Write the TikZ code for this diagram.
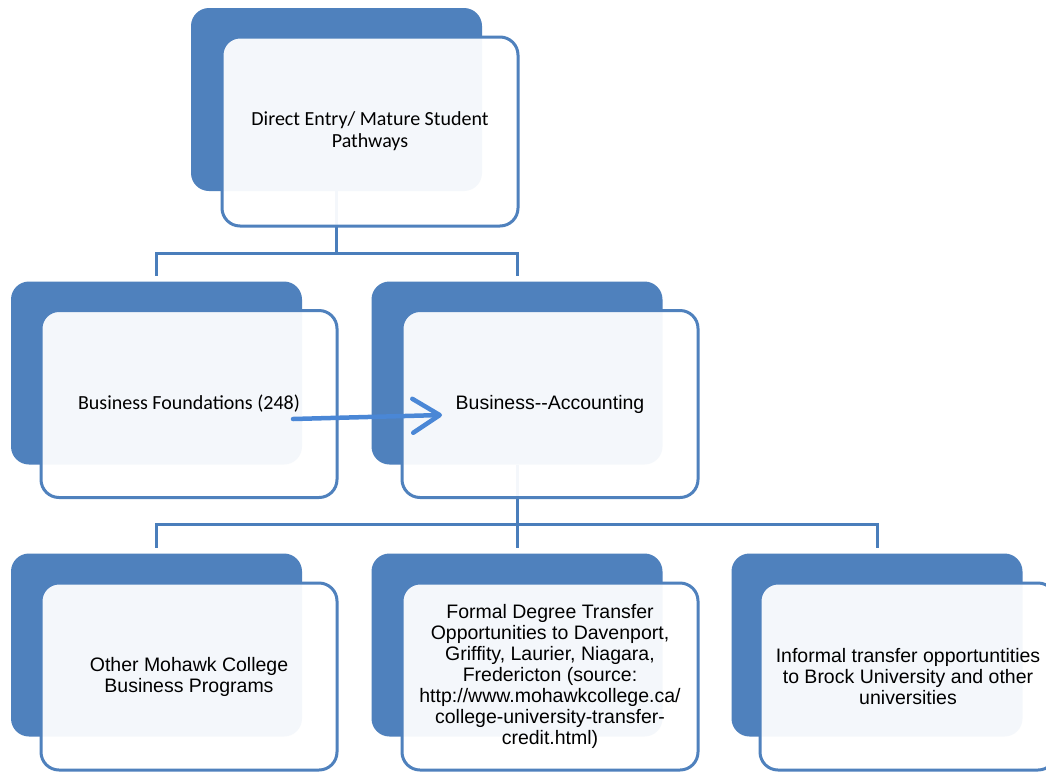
\documentclass[tikz,border=0pt]{standalone}
\usepackage{fontspec}
\setmainfont{Liberation Sans}
\newfontfamily\calfont{Carlito}
\usetikzlibrary{arrows.meta}
\definecolor{backblue}{HTML}{4F81BD}
\definecolor{linkblue}{HTML}{4A7EBB}
\definecolor{arrowblue}{HTML}{4A87D6}
\tikzset{
  backbox/.style={rectangle, rounded corners=18pt, fill=backblue, draw=none,
    minimum width=291pt, minimum height=183pt, inner sep=0pt},
  frontbox/.style={rectangle, rounded corners=18pt, draw=backblue, line width=3pt,
    fill=white, fill opacity=0.94, text opacity=1,
    minimum width=296pt, minimum height=187pt, inner sep=0pt, align=center},
  arialtxt/.style={font=\fontsize{19.5pt}{21pt}\selectfont},
  calitxt/.style={font=\calfont\fontsize{20pt}{22pt}\selectfont},
  conn/.style={draw=linkblue, line width=3pt},
  flowarrow/.style={draw=arrowblue, line width=4.5pt, line cap=round,
    -{Straight Barb[length=27pt, width=34pt, line width=4.5pt, round]}},
}
\begin{document}
\begin{tikzpicture}[x=1pt, y=-1pt]
\useasboundingbox (0,0) rectangle (1046,774);
\clip (0,0) rectangle (1046,774);
\fill[white] (0,0) rectangle (1046,774);
% back rectangles
\node[backbox] (tb) at (336.5,99.5) {};
\node[backbox] (lb) at (156.5,373) {};
\node[backbox] (rb) at (517,373) {};
\node[backbox] (b1b) at (156.5,645) {};
\node[backbox] (b2b) at (517,645) {};
\node[backbox] (b3b) at (877,645) {};
% connectors
\coordinate (j1) at (336.5,253);
\coordinate (j2) at (517,524);
\draw[conn] (tb.south) -- (j1);
\draw[conn, shorten >=5pt] (j1) -| (lb.north);
\draw[conn, shorten >=5pt] (j1) -| (rb.north);
\draw[conn] (rb.south) -- (j2);
\draw[conn, shorten >=5pt] (j2) -| (b1b.north);
\draw[conn, shorten >=5pt] (j2) -| (b2b.north);
\draw[conn, shorten >=5pt] (j2) -| (b3b.north);
% front boxes
\node[frontbox, calitxt, minimum height=189pt] (tf) at (370,131.5) {Direct Entry/ Mature Student\\Pathways};
\node[frontbox, calitxt] (lf) at (189,404) {Business Foundations (248)};
\node[frontbox, arialtxt] (rf) at (550,404) {Business-{}-Accounting};
\node[frontbox, arialtxt] (b1f) at (189,676.5) {Other Mohawk College\\Business Programs};
\node[frontbox, arialtxt] (b2f) at (550,676.5) {Formal Degree Transfer\\Opportunities to Davenport,\\Griffity, Laurier, Niagara,\\Fredericton (source:\\http://www.mohawkcollege.ca/\\college-university-transfer-\\credit.html)};
\node[frontbox, arialtxt] (b3f) at (908,676.5) {Informal transfer opportuntities\\to Brock University and other\\universities};
% arrow
\coordinate (as) at (293,419);
\coordinate (ae) at (442,415);
\draw[flowarrow] (as) -- (ae);
\end{tikzpicture}
\end{document}
